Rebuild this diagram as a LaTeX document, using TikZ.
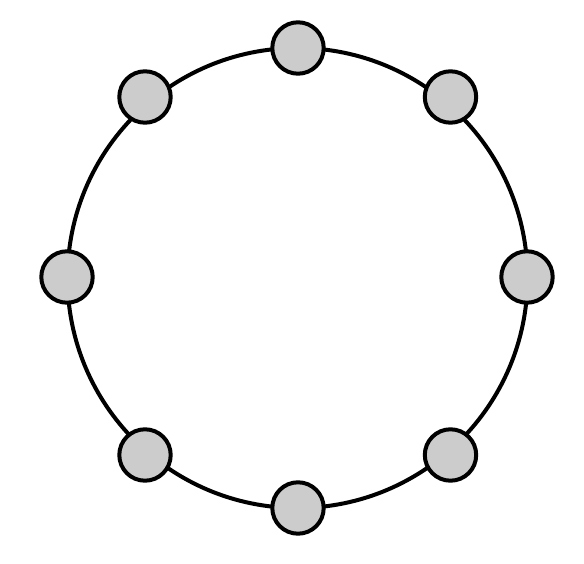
\documentclass[tikz,border=0pt]{standalone}
\begin{document}
\begin{tikzpicture}[x=1pt,y=-1pt,
  ring/.style={line width=4pt, draw=black},
  dot/.style={circle, draw=black, line width=4pt, fill=black!20, minimum size=51.4pt, inner sep=0pt}]
\useasboundingbox (0,0) rectangle (584,564);
\coordinate (c) at (297.5,278);
\draw[ring] (c) circle (230pt);
\node[dot] (n1) at (298,48) {};
\node[dot] (n2) at (450.5,97) {};
\node[dot] (n3) at (527,277) {};
\node[dot] (n4) at (450.5,455) {};
\node[dot] (n5) at (298,508) {};
\node[dot] (n6) at (145,455) {};
\node[dot] (n7) at (67,277) {};
\node[dot] (n8) at (145,97) {};
\end{tikzpicture}
\end{document}
